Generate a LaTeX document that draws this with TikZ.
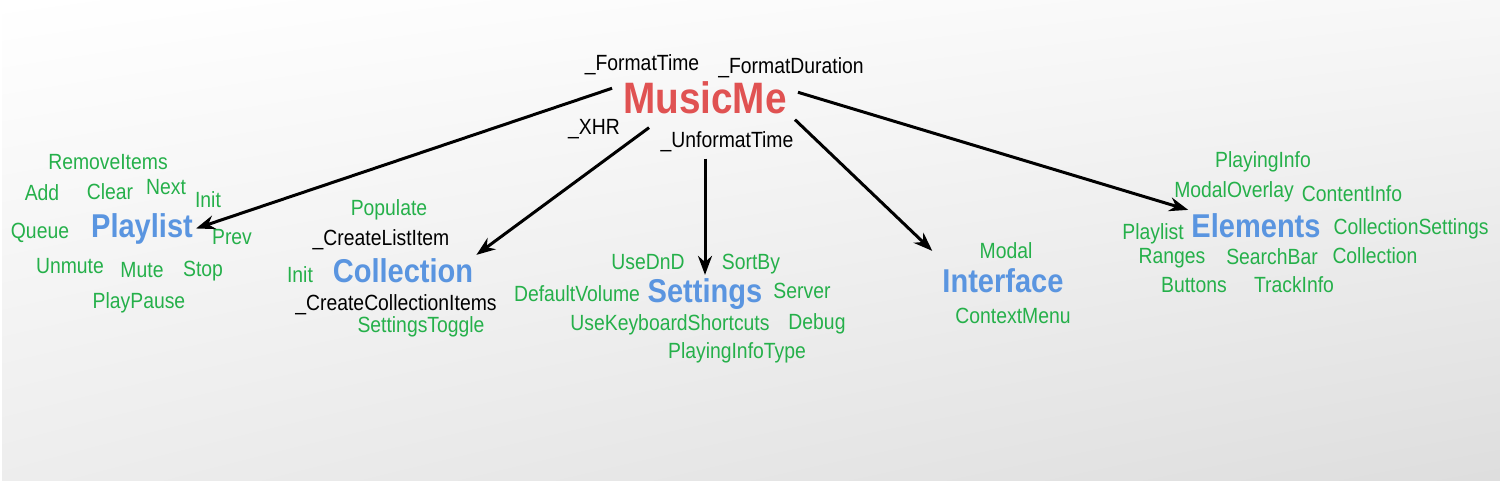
\documentclass[tikz,border=0pt]{standalone}
\usepackage{fontspec}
\setmainfont{Liberation Sans}[FakeStretch=0.88]
\usetikzlibrary{arrows.meta,shadings}

\definecolor{rootred}{HTML}{E05252}
\definecolor{modblue}{HTML}{5A95E0}
\definecolor{membgreen}{HTML}{25B04A}

\tikzset{
  root/.style={text=rootred, font=\bfseries\fontsize{44}{44}\selectfont, inner sep=4pt, anchor=base},
  module/.style={text=modblue, font=\bfseries\fontsize{33}{33}\selectfont, inner sep=3pt, anchor=base},
  member/.style={text=membgreen, font=\fontsize{22}{22}\selectfont, anchor=base},
  helper/.style={text=black, font=\fontsize{22}{22}\selectfont, anchor=base},
  link/.style={line width=3pt, -{Stealth[length=19pt,width=14pt]}}
}

\begin{document}
\begin{tikzpicture}[x=1pt, y=-1pt]
    \useasboundingbox (0,0) rectangle (1500,480);
    \shade[upper left=white, upper right=white!97!black, lower left=white!93!black, lower right=white!87!black] (2,0) rectangle (1500,480);

    % root and its helpers
    \node[root] (music) at (705,113) {MusicMe};
    \node[helper] (fmttime) at (642,70) {\_FormatTime};
    \node[helper] (fmtdur) at (791,73) {\_FormatDuration};
    \node[helper] (xhr) at (594,134) {\_XHR};
    \node[helper] (unfmt) at (727,147) {\_UnformatTime};

    % modules
    \node[module] (playlist) at (142,237) {Playlist};
    \node[module] (collection) at (403,282) {Collection};
    \node[module] (settings) at (705,302) {Settings};
    \node[module] (interface) at (1003,292) {Interface};
    \node[module] (elements) at (1256,237) {Elements};

    % Playlist members
    \node[member] (pl-remove) at (108,169) {RemoveItems};
    \node[member] (pl-add) at (42,200) {Add};
    \node[member] (pl-clear) at (110,199) {Clear};
    \node[member] (pl-next) at (166,194) {Next};
    \node[member] (pl-init) at (208,207) {Init};
    \node[member] (pl-queue) at (40,238) {Queue};
    \node[member] (pl-prev) at (232,244) {Prev};
    \node[member] (pl-unmute) at (70,273) {Unmute};
    \node[member] (pl-mute) at (142,277) {Mute};
    \node[member] (pl-stop) at (203,276) {Stop};
    \node[member] (pl-playpause) at (139,308) {PlayPause};

    % Collection members
    \node[member] (co-populate) at (389,215) {Populate};
    \node[helper] (co-mklist) at (381,245) {\_CreateListItem};
    \node[member] (co-init) at (300,282) {Init};
    \node[helper] (co-mkitems) at (396,310) {\_CreateCollectionItems};
    \node[member] (co-toggle) at (421,332) {SettingsToggle};

    % Settings members
    \node[member] (se-dnd) at (648,269) {UseDnD};
    \node[member] (se-sortby) at (751,269) {SortBy};
    \node[member] (se-volume) at (577,301) {DefaultVolume};
    \node[member] (se-server) at (802,298) {Server};
    \node[member] (se-keys) at (670,330) {UseKeyboardShortcuts};
    \node[member] (se-debug) at (817,329) {Debug};
    \node[member] (se-infotype) at (737,358) {PlayingInfoType};

    % Interface members
    \node[member] (in-modal) at (1006,258) {Modal};
    \node[member] (in-menu) at (1013,323) {ContextMenu};

    % Elements members
    \node[member] (el-playing) at (1263,167) {PlayingInfo};
    \node[member] (el-overlay) at (1234,197) {ModalOverlay};
    \node[member] (el-content) at (1352,201) {ContentInfo};
    \node[member] (el-playlist) at (1153,239) {Playlist};
    \node[member] (el-colset) at (1411,234) {CollectionSettings};
    \node[member] (el-ranges) at (1172,263) {Ranges};
    \node[member] (el-search) at (1272,264) {SearchBar};
    \node[member] (el-collection) at (1375,263) {Collection};
    \node[member] (el-buttons) at (1194,292) {Buttons};
    \node[member] (el-track) at (1294,292) {TrackInfo};

    \draw[link] ([shift={(-7pt,9pt)}]music.west) -- (playlist.east);
    \draw[link] ([shift={(30pt,-10pt)}]music.south west) -- (collection.north east);
    \draw[link] ([yshift=-41pt]music.south) -- (settings.north);
    \draw[link] ([shift={(4pt,-2pt)}]music.south east) -- ([shift={(-7pt,14pt)}]interface.north west);
    \draw[link] ([shift={(7pt,5pt)}]music.east) -- (elements.north west);
\end{tikzpicture}
\end{document}
